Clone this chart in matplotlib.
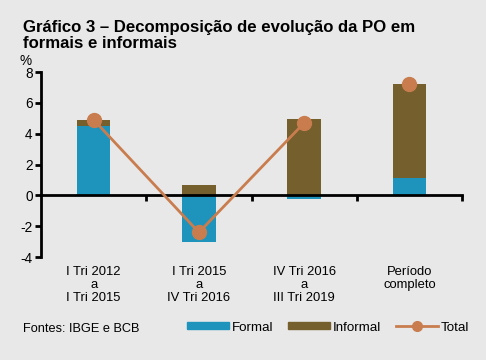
import numpy as np
import matplotlib.pyplot as plt
from matplotlib.patches import Patch
from matplotlib.lines import Line2D

plt.rcParams['font.family'] = ['Liberation Sans', 'DejaVu Sans']
plt.rcParams['axes.unicode_minus'] = False

categories = ['I Tri 2012\na\nI Tri 2015',
              'I Tri 2015\na\nIV Tri 2016',
              'IV Tri 2016\na\nIII Tri 2019',
              'Período\ncompleto']
formal = [4.5, -3.05, -0.25, 1.1]
informal = [0.4, 0.65, 4.95, 6.15]
total = [4.9, -2.4, 4.7, 7.25]

c_formal = '#1E94BD'
c_informal = '#755F2C'
c_total = '#C97D4E'
bg = '#E8E8E9'

fig = plt.figure(figsize=(4.86, 3.6), dpi=100, facecolor=bg)
ax = fig.add_axes([0.0844, 0.286, 0.8663, 0.514])
ax.set_facecolor('none')

x = np.arange(len(categories))
formal = np.array(formal)
informal = np.array(informal)
# informal sits on formal only when formal is positive
bottom_inf = np.where(formal > 0, formal, 0)

ax.bar(x, formal, width=0.32, color=c_formal, zorder=2)
ax.bar(x, informal, width=0.32, bottom=bottom_inf, color=c_informal, zorder=2)
# line links the three sub-periods; full period is a lone marker
ax.plot(x[:3], total[:3], color=c_total, lw=2, marker='o', markersize=10, zorder=3)
ax.plot(x[3:], total[3:], color=c_total, lw=0, marker='o', markersize=10, zorder=3)

ax.set_xlim(-0.5, 3.5)
ax.set_ylim(-4, 8)
ax.set_yticks(np.arange(-4, 9, 2))
ax.set_xticks([0.5, 1.5, 2.5, 3.5])
ax.set_xticklabels([])

for s in ['top', 'right']:
    ax.spines[s].set_visible(False)
ax.spines['bottom'].set_position(('data', 0))
ax.spines['bottom'].set_linewidth(2)
ax.spines['left'].set_linewidth(2)
ax.tick_params(axis='y', direction='out', length=4, width=2, labelsize=9.8, pad=2)
ax.tick_params(axis='x', direction='out', length=4, width=2)

for xi, lab in zip(x, categories):
    ax.text(xi, -4.55, lab, ha='center', va='top', fontsize=9.4,
            linespacing=1.15)

fig.text(0.041, 0.831, '%', fontsize=9.8, ha='left', va='center')
fig.text(0.047, 0.945, 'Gráfico 3 – Decomposição de evolução da PO em\nformais e informais',
         fontsize=12.1, fontweight='bold', ha='left', va='top', linespacing=1.1)
fig.text(0.047, 0.085, 'Fontes: IBGE e BCB', fontsize=9.2, ha='left', va='center')

handles = [Patch(color=c_formal, label='Formal'),
           Patch(color=c_informal, label='Informal'),
           Line2D([0], [0], color=c_total, lw=2, marker='o', markersize=7,
                  label='Total')]
fig.legend(handles=handles, ncol=3, loc='center', bbox_to_anchor=(0.675, 0.09),
           frameon=False, fontsize=9.6, handlelength=3.15, handleheight=0.45,
           handletextpad=0.2, columnspacing=1.1)

fig.savefig('out.png', dpi=100, facecolor=bg)
